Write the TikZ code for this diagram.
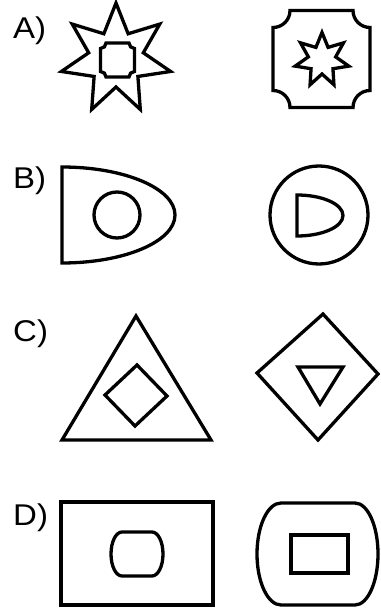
\documentclass[tikz,border=0pt]{standalone}
\usepackage{fontspec}
\setmainfont{Liberation Sans}
\usepackage{tikz}

\begin{document}
\begin{tikzpicture}[x=1pt,y=-1pt,
  fig/.style={line width=3.3pt,line join=miter},
  lbl/.style={font=\fontsize{30}{32}\selectfont,xscale=1.1,anchor=base west,inner sep=0pt}]
\useasboundingbox (0,0) rectangle (380,612);
\node[lbl] (lblA) at (13,39) {A)};
\begin{scope}[shift={(116,59)}]
\draw[fig] (-90:56) \foreach \k in {1,...,6} {-- ({-90+(\k-0.5)*360/7}:28) -- ({-90+\k*360/7}:56)} -- ({-90+6.5*360/7}:28) -- cycle;
\end{scope}
\begin{scope}[shift={(117.5,60)}]
\draw[fig] (-11.5,-17) -- (11.5,-17) arc[start angle=180,end angle=90,radius=5.5] -- (17,11.5) arc[start angle=270,end angle=180,radius=5.5] -- (-11.5,17) arc[start angle=0,end angle=-90,radius=5.5] -- (-17,-11.5) arc[start angle=90,end angle=0,radius=5.5] -- cycle;
\end{scope}
\begin{scope}[shift={(321.5,59)}]
\draw[fig] (-31.5,-48.5) -- (31.5,-48.5) arc[start angle=180,end angle=90,radius=17] -- (48.5,31.5) arc[start angle=270,end angle=180,radius=17] -- (-31.5,48.5) arc[start angle=0,end angle=-90,radius=17] -- (-48.5,-31.5) arc[start angle=90,end angle=0,radius=17] -- cycle;
\end{scope}
\begin{scope}[shift={(322,60)}]
\draw[fig] (-90:27.5) \foreach \k in {1,...,6} {-- ({-90+(\k-0.5)*360/7}:14) -- ({-90+\k*360/7}:27.5)} -- ({-90+6.5*360/7}:14) -- cycle;
\end{scope}

\node[lbl] (lblB) at (13,189) {B)};
\draw[fig] (62,167) arc[start angle=-90,end angle=90,x radius=113,y radius=48] -- cycle;
\draw[fig] (117,215) circle[radius=23];
\draw[fig] (319,215) circle[radius=49];
\draw[fig] (297,195) arc[start angle=-90,end angle=90,x radius=46,y radius=20.5] -- cycle;

\node[lbl] (lblC) at (13,341) {C)};
\draw[fig] (136,316) -- (211,440) -- (62,440) -- cycle;
\draw[fig] (137,365) -- (167,396) -- (135,426) -- (105,395) -- cycle;
\draw[fig] (323,314) -- (378,374) -- (318,440) -- (257,373) -- cycle;
\draw[fig] (298,367) -- (343,367) -- (320,404) -- cycle;

\node[lbl] (lblD) at (13,525) {D)};
\draw[fig] (61,502) rectangle (213,605);
\draw[fig] (122,532) -- (152,532) arc[start angle=-90,end angle=90,x radius=11,y radius=22] -- (122,576) arc[start angle=90,end angle=270,x radius=11,y radius=22] -- cycle;
\draw[fig] (291,535) rectangle (348,573);
\draw[fig] (281,503) -- (355,503) arc[start angle=-90,end angle=90,x radius=23,y radius=51] -- (281,605) arc[start angle=90,end angle=270,x radius=24,y radius=51] -- cycle;
\end{tikzpicture}
\end{document}
